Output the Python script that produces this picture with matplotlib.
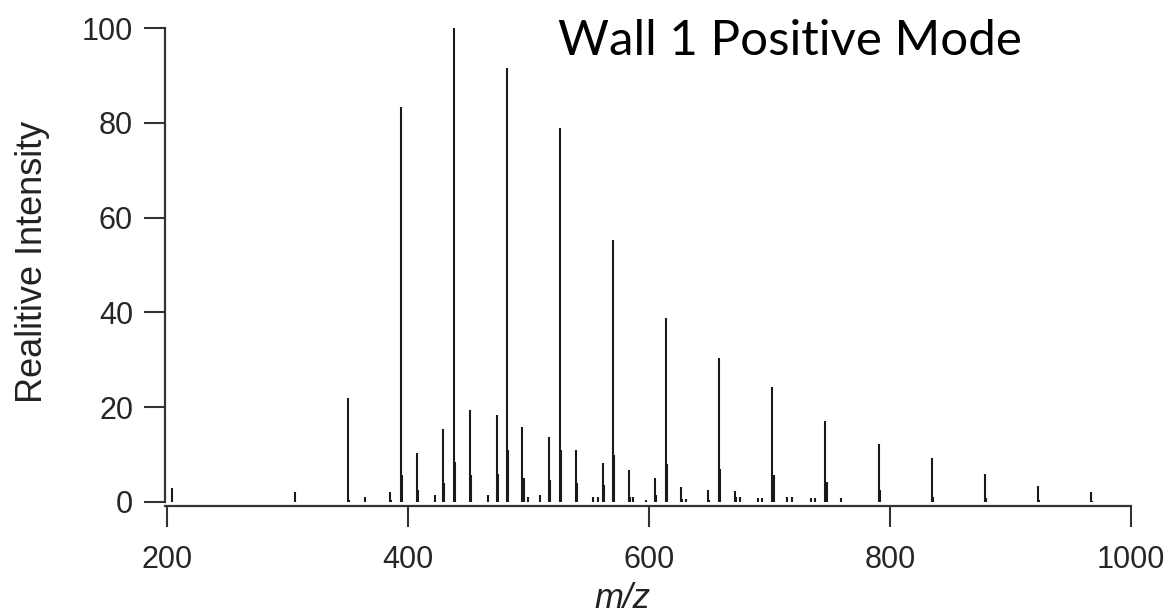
#!/usr/bin/env python
""" plot.py  mass spectrum of wall 1, positive mode
"""

import matplotlib.pyplot as plt

# main series (strong peaks), m/z and relative intensity
main_mz = [350.2, 394.2, 438.3, 482.3, 526.3, 570.4, 614.4, 658.4,
           702.5, 746.5, 790.6, 834.6, 878.6, 922.7, 966.7]
main_int = [22.0, 83.3, 100.0, 91.5, 79.0, 55.3, 38.8, 30.4,
            24.3, 17.1, 12.2, 9.2, 6.0, 3.3, 2.2]
# isotope peaks just right of the main ones
main_iso_int = [0.5, 5.7, 8.5, 11.0, 11.0, 9.9, 8.1, 6.9,
                5.7, 4.3, 2.5, 1.0, 0.8, 0.4, 0.3]

# second series
ser_b_mz = [407.7, 451.4, 495.1, 539.3, 583.3, 626.5, 671.3]
ser_b_int = [10.4, 19.4, 15.8, 11.0, 6.7, 3.2, 2.3]
ser_b_iso = [2.5, 5.7, 5.0, 4.0, 1.0, 0.7, 1.0]

# third series
ser_c_mz = [385.0, 428.8, 473.6, 517.0, 561.5, 605.0, 649.2]
ser_c_int = [2.2, 15.5, 18.3, 13.7, 8.3, 5.0, 2.5]
ser_c_iso = [0.5, 3.9, 6.0, 4.6, 3.6, 1.5, 0.5]

# small peaks
small_mz = [204.0, 306.0, 364.3, 422.4, 466.1, 499.6, 510.0, 553.7,
            557.8, 586.7, 598.0, 630.6, 675.5, 690.4, 693.7, 714.3,
            718.4, 734.1, 737.6, 759.0]
small_int = [2.9, 2.2, 1.0, 1.5, 1.5, 1.0, 1.5, 1.0,
             1.0, 1.0, 0.5, 0.7, 1.0, 0.8, 0.8, 1.0,
             1.0, 0.8, 0.8, 0.8]

x_ticks = [200, 400, 600, 800, 1000]
y_ticks = [0, 20, 40, 60, 80, 100]

AXIS_FONT = 'Liberation Sans'
GREY = '#333333'

fig = plt.figure(figsize=(11.68, 6.13), dpi=100)
ax = fig.add_axes([165 / 1168, 1 - 506 / 613,
                   (1131 - 165) / 1168, (506 - 28) / 613])

peak_kw = dict(color='#1a1a1a', linewidth=1.5)
ax.vlines(main_mz, 0, main_int, **peak_kw)
ax.vlines([m + 1.0 for m in main_mz], 0, main_iso_int, **peak_kw)
ax.vlines(ser_b_mz, 0, ser_b_int, **peak_kw)
ax.vlines([m + 1.0 for m in ser_b_mz], 0, ser_b_iso, **peak_kw)
ax.vlines(ser_c_mz, 0, ser_c_int, **peak_kw)
ax.vlines([m + 1.0 for m in ser_c_mz], 0, ser_c_iso, **peak_kw)
ax.vlines(small_mz, 0, small_int, **peak_kw)

ax.set_xlim(198.5, 1000)
ax.set_ylim(-0.85, 100)

for side in ('top', 'right'):
    ax.spines[side].set_visible(False)
for side in ('left', 'bottom'):
    ax.spines[side].set_linewidth(1.6)
    ax.spines[side].set_color(GREY)
ax.spines['left'].set_bounds(0, 100)

ax.set_xticks(x_ticks)
ax.set_yticks(y_ticks)
ax.tick_params(axis='both', direction='out', length=15, width=1.5,
               color=GREY, labelcolor='#262626', labelsize=22)
ax.tick_params(axis='y', pad=8)
ax.tick_params(axis='x', pad=13)
for lab in ax.get_xticklabels() + ax.get_yticklabels():
    lab.set_fontfamily(AXIS_FONT)

fig.text(33 / 1168, 1 - 262 / 613, 'Realitive Intensity', rotation=90,
         ha='center', va='center', fontsize=26, family=AXIS_FONT,
         color='#222222')
fig.text(622 / 1168, 1 - 598 / 613, 'm/z', ha='center', va='center',
         fontsize=25, family=AXIS_FONT, style='italic', color='#222222')

fig.text(558 / 1168, 1 - 55 / 613, 'Wall 1 Positive Mode', ha='left',
         va='baseline', fontsize=35.5, family='Lato', color='black')

fig.savefig('out.png', dpi=100)
